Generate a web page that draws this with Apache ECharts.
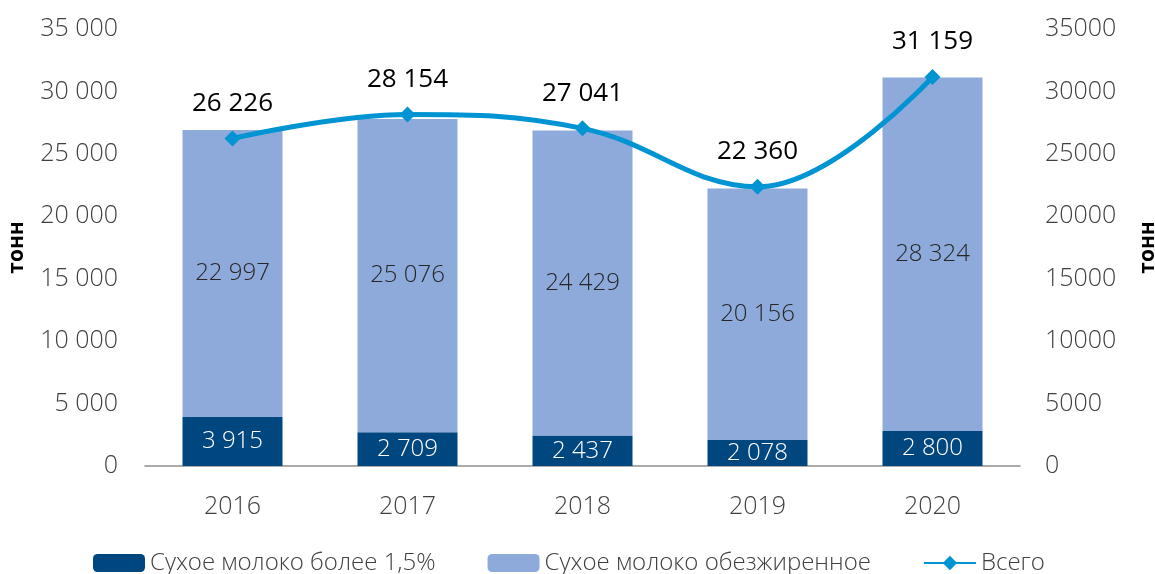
<!DOCTYPE html>
<html>
<head>
<meta charset="utf-8">
<script src="https://cdn.jsdelivr.net/npm/echarts@6/dist/echarts.min.js"></script>
<style>
  html, body { margin: 0; padding: 0; background: #fff; }
  #main { width: 1155px; height: 574px; }
</style>
</head>
<body>
<div id="main"></div>
<script>
// данные
var years = ["2016", "2017", "2018", "2019", "2020"];
var fatMilk = [3915, 2709, 2437, 2078, 2800];
var skimMilk = [22997, 25076, 24429, 20156, 28324];
var total = [26226, 28154, 27041, 22360, 31159];

var FONT = "'Open Sans', 'Noto Sans', sans-serif";

// 26226 -> "26 226"
function fmt(v) {
  return String(v).replace(/\B(?=(\d{3})+(?!\d))/g, " ");
}

var chart = echarts.init(document.getElementById("main"));
chart.setOption({
  animation: false,
  textStyle: { fontFamily: FONT },
  grid: {
    left: 145,
    right: 135,
    top: 29,
    bottom: 108,
    containLabel: false,
    outerBoundsMode: "none"
  },
  legend: {
    top: 546,
    left: 88,
    itemWidth: 52,
    itemHeight: 18,
    itemGap: 52,
    textStyle: { fontSize: 24, color: "#404040", fontWeight: 300, fontFamily: FONT },
    data: [
      { name: "Сухое молоко более 1,5%" },
      { name: "Сухое молоко обезжиренное" },
      { name: "Всего" }
    ]
  },
  xAxis: {
    type: "category",
    data: years,
    axisTick: { show: false },
    axisLine: { lineStyle: { color: "#909090", width: 1.5 } },
    axisLabel: { fontSize: 25, color: "#404040", margin: 28, fontWeight: 300 }
  },
  yAxis: [
    {
      type: "value",
      min: 0,
      max: 35000,
      interval: 5000,
      name: "тонн",
      nameLocation: "middle",
      nameGap: 117,
      nameRotate: 90,
      nameTextStyle: { fontSize: 21, color: "#000", fontWeight: "bold" },
      splitLine: { show: false },
      axisLabel: {
        fontSize: 25,
        color: "#404040",
        fontWeight: 300,
        margin: 27,
        formatter: function (v) { return fmt(v); }
      }
    },
    {
      type: "value",
      min: 0,
      max: 35000,
      interval: 5000,
      name: "тонн",
      nameLocation: "middle",
      nameGap: 118,
      nameRotate: 90,
      nameTextStyle: { fontSize: 21, color: "#000", fontWeight: "bold" },
      splitLine: { show: false },
      axisLabel: {
        fontSize: 25,
        color: "#404040",
        fontWeight: 300,
        margin: 25,
        formatter: function (v) { return String(v); }
      }
    }
  ],
  series: [
    {
      name: "Сухое молоко более 1,5%",
      type: "bar",
      stack: "milk",
      barWidth: 100,
      data: fatMilk,
      itemStyle: { color: "#00477f" },
      label: {
        show: true,
        position: "inside",
        color: "#fff",
        fontSize: 24,
        fontWeight: 300,
        formatter: function (p) { return fmt(p.value); }
      }
    },
    {
      name: "Сухое молоко обезжиренное",
      type: "bar",
      stack: "milk",
      data: skimMilk,
      itemStyle: { color: "#8eaadb" },
      label: {
        show: true,
        position: "inside",
        color: "#262626",
        fontSize: 24,
        fontWeight: 300,
        formatter: function (p) { return fmt(p.value); }
      }
    },
    {
      name: "Всего",
      type: "line",
      yAxisIndex: 1,
      data: total,
      smooth: 0.4,
      symbol: "diamond",
      symbolSize: 16,
      lineStyle: { color: "#0094d2", width: 5 },
      itemStyle: { color: "#0094d2" },
      label: {
        show: true,
        position: "top",
        distance: 14,
        color: "#000",
        fontSize: 26,
        formatter: function (p) { return fmt(p.value); }
      }
    }
  ]
});
</script>
</body>
</html>
